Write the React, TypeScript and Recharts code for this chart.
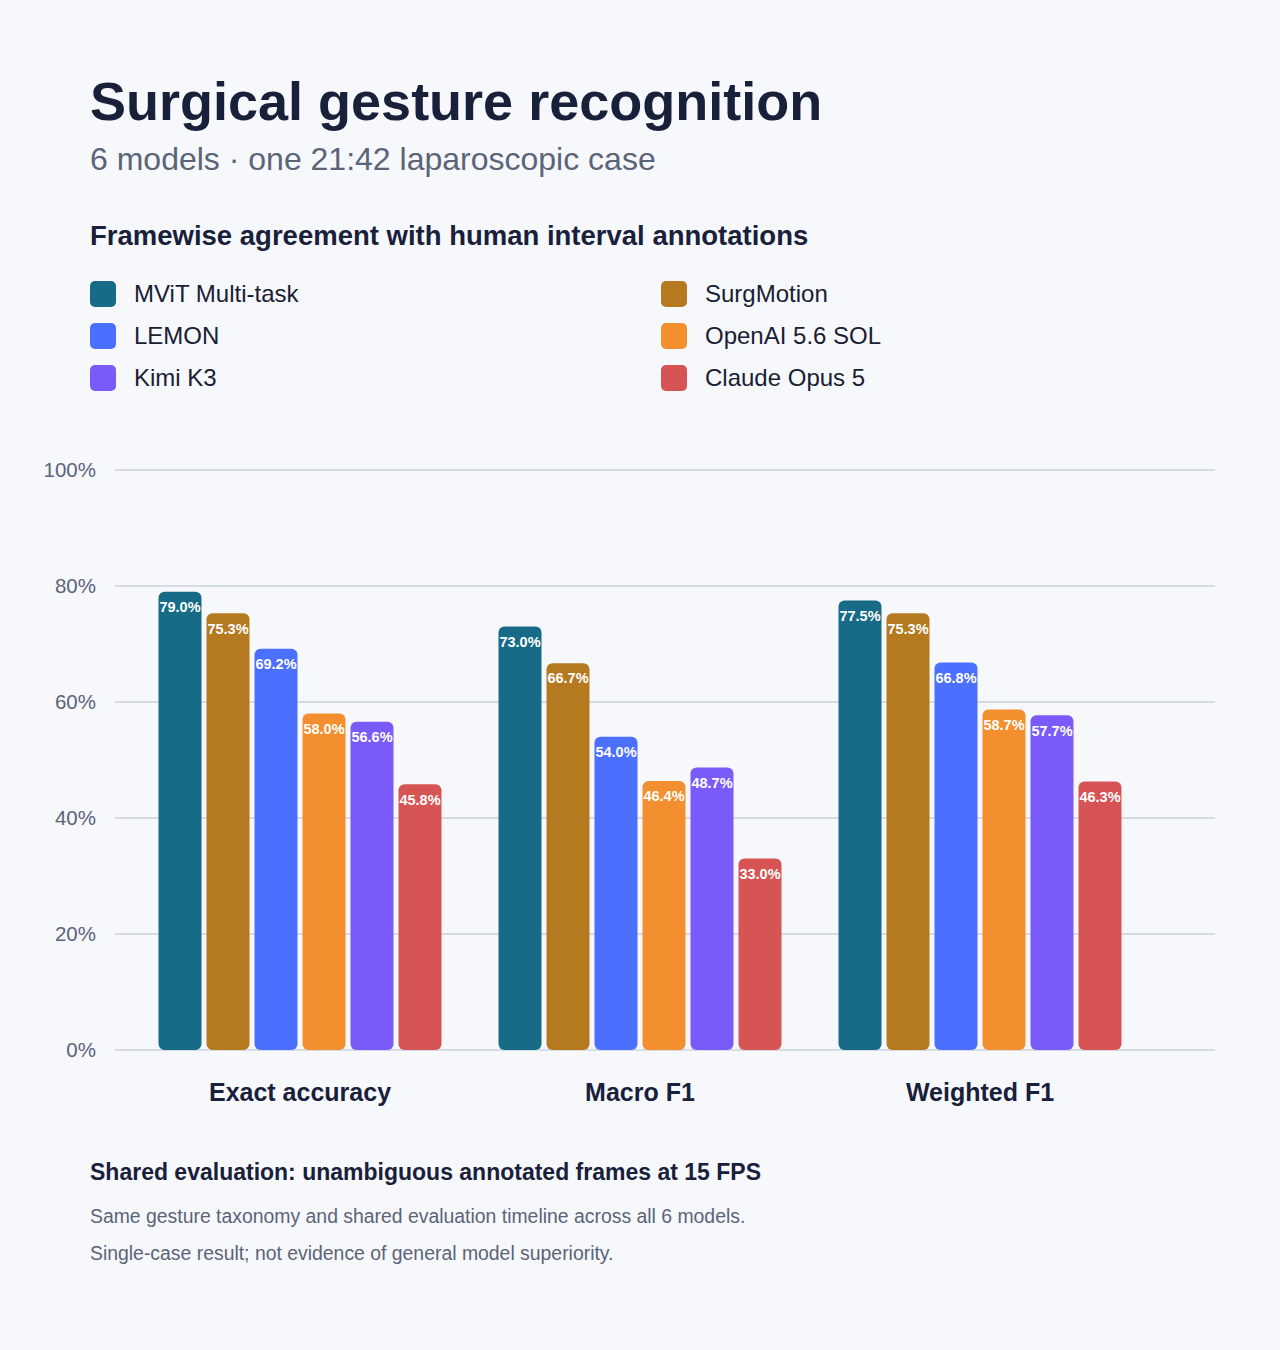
import React from "react";
import { BarChart, Bar, XAxis, YAxis, CartesianGrid, LabelList } from "recharts";

const metrics = ["Exact accuracy", "Macro F1", "Weighted F1"];
const models = ["MViT Multi-task", "SurgMotion", "LEMON", "OpenAI 5.6 SOL", "Kimi K3", "Claude Opus 5"];
const colors = ["#186b86", "#b57920", "#4b6ffe", "#f38f2e", "#7a5af8", "#d65454"];

const mvit = [79.0, 73.0, 77.5];
const surgMotion = [75.3, 66.7, 75.3];
const lemon = [69.2, 54.0, 66.8];
const openai = [58.0, 46.4, 58.7];
const kimi = [56.6, 48.7, 57.7];
const claude = [45.8, 33.0, 46.3];
const seriesValues = [mvit, surgMotion, lemon, openai, kimi, claude];

const yTicks = [0, 20, 40, 60, 80, 100];

const data = metrics.map((m, i) => {
  const row: any = { metric: m };
  models.forEach((name, s) => (row[`s${s}`] = seriesValues[s][i]));
  return row;
});

// legend order: left column then right column
const legendLeft = [0, 2, 4];
const legendRight = [1, 3, 5];

const font = '"Liberation Sans", Arial, Helvetica, sans-serif';

function LegendItem({ idx, x, y }: { idx: number; x: number; y: number }) {
  return (
    <div style={{ position: "absolute", left: x, top: y, display: "flex", alignItems: "center" }}>
      <div style={{ width: 26, height: 26, borderRadius: 5, background: colors[idx] }} />
      <div style={{ marginLeft: 18, fontSize: 24, color: "#1a2033", lineHeight: 1 }}>{models[idx]}</div>
    </div>
  );
}

export default function App() {
  return (
    <div style={{ position: "relative", width: 1280, height: 1350, background: "#f6f8fc", fontFamily: font, overflow: "hidden" }}>
      <style>{`body{margin:0}`}</style>
      <div style={{ position: "absolute", left: 90, top: 74, fontSize: 54, fontWeight: 700, color: "#19203a", lineHeight: 1 }}>
        Surgical gesture recognition
      </div>
      <div style={{ position: "absolute", left: 90, top: 143, fontSize: 32, color: "#5b6478", lineHeight: 1 }}>
        6 models · one 21:42 laparoscopic case
      </div>
      <div style={{ position: "absolute", left: 90, top: 222, fontSize: 27.5, fontWeight: 700, color: "#19203a", lineHeight: 1 }}>
        Framewise agreement with human interval annotations
      </div>

      {legendLeft.map((idx, r) => (
        <LegendItem key={idx} idx={idx} x={90} y={281 + r * 42} />
      ))}
      {legendRight.map((idx, r) => (
        <LegendItem key={idx} idx={idx} x={661} y={281 + r * 42} />
      ))}

      <div style={{ position: "absolute", left: 0, top: 440 }}>
        <BarChart
          width={1280}
          height={690}
          data={data}
          margin={{ top: 30, right: 65, bottom: 0, left: 0 }}
          barCategoryGap={28.5}
          barGap={5}
        >
          <CartesianGrid vertical={false} stroke="#d6dbe6" strokeWidth={2} />
          <XAxis
            dataKey="metric"
            axisLine={false}
            tickLine={false}
            tickSize={0}
            tickMargin={33}
            height={80}
            padding={{ left: 15, right: 65 }}
            tick={{ fontSize: 25, fontWeight: 700, fill: "#19203a", fontFamily: font }}
          />
          <YAxis
            domain={[0, 100]}
            ticks={yTicks}
            width={115}
            axisLine={false}
            tickLine={false}
            tickSize={0}
            tickMargin={19}
            tickFormatter={(v: number) => `${v}%`}
            tick={{ fontSize: 20.5, fill: "#5b6478", fontFamily: font }}
          />
          {models.map((name, s) => (
            <Bar key={name} dataKey={`s${s}`} name={name} fill={colors[s]} radius={[6, 6, 6, 6]} isAnimationActive={false}>
              <LabelList
                dataKey={`s${s}`}
                position="insideTop"
                offset={10}
                fill="#ffffff"
                fontSize={14.5}
                fontWeight={700}
                fontFamily={font}
                formatter={(v: any) => `${Number(v).toFixed(1)}%`}
              />
            </Bar>
          ))}
        </BarChart>
      </div>

      <div style={{ position: "absolute", left: 90, top: 1161, fontSize: 23, fontWeight: 700, color: "#19203a", lineHeight: 1 }}>
        Shared evaluation: unambiguous annotated frames at 15 FPS
      </div>
      <div style={{ position: "absolute", left: 90, top: 1207, fontSize: 19.4, color: "#5b6478", lineHeight: 1 }}>
        Same gesture taxonomy and shared evaluation timeline across all 6 models.
      </div>
      <div style={{ position: "absolute", left: 90, top: 1244, fontSize: 19.4, color: "#5b6478", lineHeight: 1 }}>
        Single-case result; not evidence of general model superiority.
      </div>
    </div>
  );
}
